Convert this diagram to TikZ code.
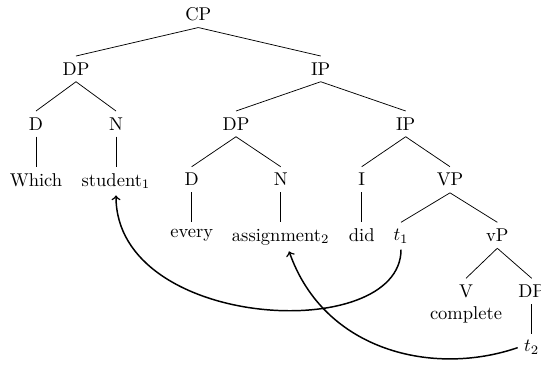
\documentclass[tikz,border=0pt]{standalone}

\begin{document}
\begin{tikzpicture}[
		x=0.54pt, y=-0.54pt, line width=0.4pt,
		cat/.style={anchor=north, inner sep=3.33pt, align=center},
		traccia/.style={->, thick, black}]
	
	\useasboundingbox (0,0) rectangle (541,368);
	
	%% livelli (quota dei nodi)
	\def\lA{1}
	\def\lB{56}
	\def\lC{111}
	\def\lD{166.7}
	\def\lE{222.3}
	\def\lF{278.3}
	\def\lG{334}
	
	%% nodi dell'albero
	\node[cat] (cp) at (198.3,\lA) {CP};
	\node[cat] (dpA) at (76,\lB) {DP};
	\node[cat] (ipA) at (320.7,\lB) {IP};
	\node[cat] (dA) at (36,\lC) {D};
	\node[cat] (nA) at (116,\lC) {N};
	\node[cat] (dpB) at (236,\lC) {DP};
	\node[cat] (ipB) at (405.7,\lC) {IP};
	\node[cat] (which) at (36,\lD) {Which};
	\node[cat] (student) at (116,\lD) {student$_1$};
	\node[cat] (dB) at (191.7,\lD) {D};
	\node[cat] (nB) at (280.7,\lD) {N};
	\node[cat] (infl) at (361.7,\lD) {I};
	\node[cat] (vp) at (450,\lD) {VP};
	\node[cat] (every) at (191.7,\lE) {every};
	\node[cat] (assign) at (280.7,\lE) {assignment$_2$};
	\node[cat] (did) at (361.7,\lE) {did};
	\node[cat] (tA) at (401,\lE) {$t_1$};
	\node[cat] (lvp) at (497.3,\lE) {vP};
	\node[cat] (verb) at (466,\lF) {V\\complete};
	\node[cat] (dpC) at (531.7,\lF) {DP};
	\node[cat] (tB) at (531.7,\lG) {$t_2$};
	
	%% rami
	\draw (cp.south) -- (dpA.north);
	\draw (cp.south) -- (ipA.north);
	\draw (dpA.south) -- (dA.north);
	\draw (dpA.south) -- (nA.north);
	\draw (dA.south) -- (which.north);
	\draw (nA.south) -- (student.north);
	\draw (ipA.south) -- (dpB.north);
	\draw (ipA.south) -- (ipB.north);
	\draw (dpB.south) -- (dB.north);
	\draw (dpB.south) -- (nB.north);
	\draw (dB.south) -- (every.north);
	\draw (nB.south) -- (assign.north);
	\draw (ipB.south) -- (infl.north);
	\draw (ipB.south) -- (vp.north);
	\draw (infl.south) -- (did.north);
	\draw (vp.south) -- (tA.north);
	\draw (vp.south) -- (lvp.north);
	\draw (lvp.south) -- (verb.north);
	\draw (lvp.south) -- (dpC.north);
	\draw (dpC.south) -- (tB.north);
	
	%% movimenti: tracce verso i loro antecedenti
	\draw[traccia] (tA.south) .. controls +(0,95) and +(0,135) .. (student.south);
	\draw[traccia] (tB.west) .. controls +(-84,29) and +(35,100) .. (assign.-60);
	
\end{tikzpicture}
\end{document}
